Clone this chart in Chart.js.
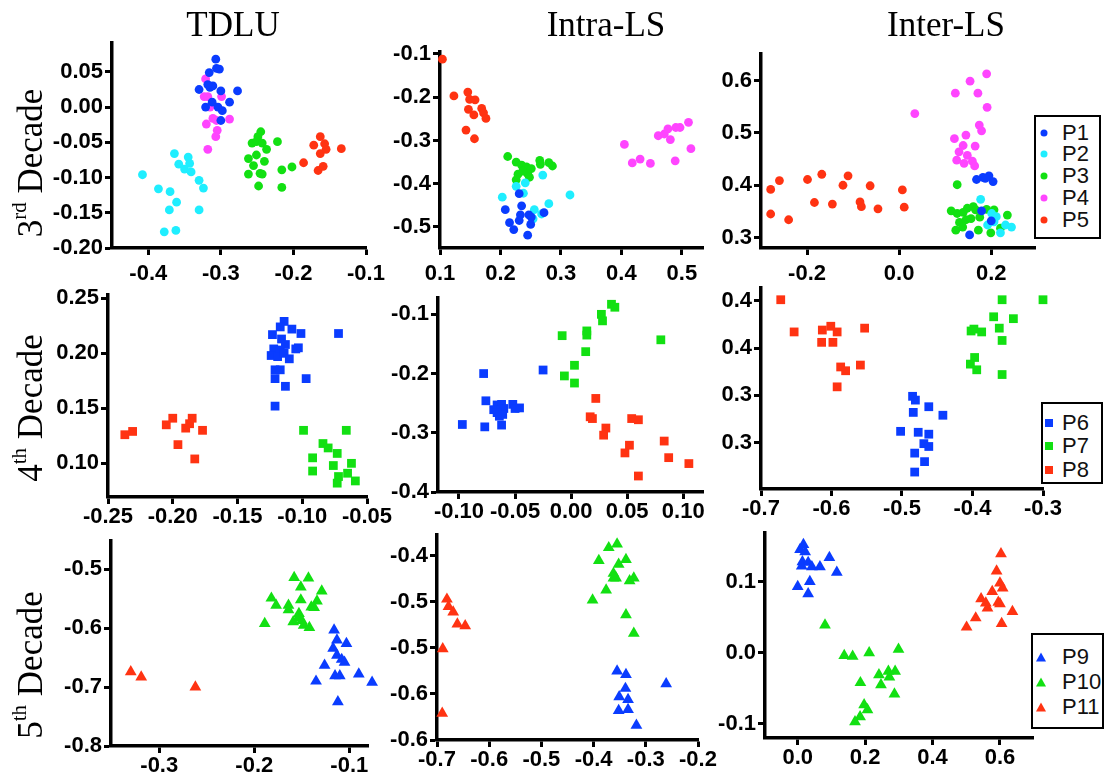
<!DOCTYPE html>
<html>
<head>
<meta charset="utf-8">
<script src="https://cdn.jsdelivr.net/npm/chart.js@4.4.0/dist/chart.umd.min.js"></script>
<style>
  body { margin: 0; background: #fff; }
  #fig { position: relative; width: 1106px; height: 783px; overflow: hidden; background: #fff; }
  #fig canvas { position: absolute; }
  .title { position: absolute; top: 7px; font: 35px "Liberation Serif", "Times New Roman", serif; line-height: 1; white-space: nowrap; transform: translateX(-50%); color: #000; }
  .row { position: absolute; font: 35px "Liberation Serif", "Times New Roman", serif; line-height: 1; white-space: nowrap; transform: translate(-50%, -50%) rotate(-90deg); color: #000; }
  .row sup { font-size: 60%; line-height: 0; vertical-align: 0.75em; }
  .legend { position: absolute; box-sizing: border-box; border: 2px solid #000; background: #fff; }
  .legend .lab { position: absolute; font: 22px "Liberation Sans", Arial, sans-serif; line-height: 1; color: #111; transform: translateY(-50%); }
  .legend .mk { position: absolute; transform: translate(-50%, -50%); }
</style>
</head>
<body>
<div id="fig"></div>
<script>
// colours of the patient series
const BLUE = "#0a3cff", CYAN = "#1feeff", GREEN = "#12e012", MAGENTA = "#ff45ff", RED = "#ff3312";

// ---- 3rd decade ----
const t3_P1 = [[-0.307,0.068],[-0.316,0.049],[-0.306,0.055],[-0.302,0.054],[-0.330,0.025],[-0.315,0.028],[-0.311,0.030],[-0.300,0.023],[-0.277,0.023],[-0.288,0.007],[-0.321,0.000],[-0.312,0.007],[-0.304,0.000],[-0.298,-0.005],[-0.300,-0.019],[-0.318,0.032]];
const t3_P2 = [[-0.408,-0.096],[-0.386,-0.116],[-0.370,-0.120],[-0.364,-0.066],[-0.358,-0.081],[-0.345,-0.071],[-0.343,-0.080],[-0.350,-0.088],[-0.341,-0.092],[-0.330,-0.104],[-0.324,-0.115],[-0.361,-0.135],[-0.371,-0.146],[-0.330,-0.146],[-0.378,-0.177],[-0.362,-0.175]];
const t3_P3 = [[-0.245,-0.035],[-0.249,-0.042],[-0.257,-0.051],[-0.251,-0.049],[-0.243,-0.051],[-0.222,-0.049],[-0.237,-0.060],[-0.251,-0.068],[-0.262,-0.073],[-0.255,-0.083],[-0.240,-0.077],[-0.262,-0.095],[-0.246,-0.094],[-0.243,-0.095],[-0.248,-0.112],[-0.216,-0.089],[-0.202,-0.085],[-0.216,-0.114]];
const t3_P4 = [[-0.321,0.040],[-0.323,0.015],[-0.318,0.015],[-0.299,0.015],[-0.315,0.000],[-0.311,-0.016],[-0.306,-0.019],[-0.288,-0.017],[-0.320,-0.024],[-0.305,-0.033],[-0.307,-0.042],[-0.318,-0.060]];
const t3_P5 = [[-0.163,-0.042],[-0.172,-0.054],[-0.157,-0.052],[-0.163,-0.066],[-0.155,-0.060],[-0.134,-0.059],[-0.186,-0.079],[-0.159,-0.084],[-0.166,-0.090]];

const i3_P1 = [[0.231,-0.423],[0.208,-0.460],[0.235,-0.451],[0.233,-0.472],[0.247,-0.472],[0.251,-0.477],[0.272,-0.467],[0.215,-0.490],[0.231,-0.485],[0.222,-0.506],[0.250,-0.494],[0.245,-0.519]];
const i3_P2 = [[0.270,-0.380],[0.241,-0.398],[0.226,-0.406],[0.203,-0.431],[0.238,-0.422],[0.315,-0.426],[0.280,-0.446],[0.256,-0.460],[0.268,-0.470],[0.254,-0.481]];
const i3_P3 = [[0.212,-0.337],[0.226,-0.350],[0.235,-0.357],[0.243,-0.361],[0.251,-0.365],[0.265,-0.346],[0.266,-0.355],[0.280,-0.351],[0.286,-0.359],[0.229,-0.378],[0.245,-0.377],[0.226,-0.391],[0.248,-0.385],[0.237,-0.371]];
const i3_P4 = [[0.405,-0.309],[0.418,-0.352],[0.431,-0.343],[0.448,-0.353],[0.461,-0.289],[0.471,-0.285],[0.477,-0.273],[0.490,-0.270],[0.497,-0.270],[0.511,-0.258],[0.481,-0.298],[0.489,-0.347],[0.515,-0.319]];
const i3_P5 = [[0.104,-0.112],[0.123,-0.197],[0.146,-0.188],[0.149,-0.205],[0.158,-0.206],[0.147,-0.228],[0.156,-0.241],[0.169,-0.226],[0.172,-0.236],[0.176,-0.249],[0.143,-0.276],[0.157,-0.296]];

const e3_P1 = [[0.168,0.411],[0.182,0.415],[0.195,0.418],[0.204,0.407],[0.179,0.351],[0.200,0.332],[0.153,0.305],[0.187,0.413]];
const e3_P2 = [[0.177,0.373],[0.201,0.346],[0.211,0.340],[0.192,0.324],[0.220,0.309],[0.231,0.324],[0.244,0.320],[0.206,0.330]];
const e3_P3 = [[0.126,0.401],[0.113,0.351],[0.126,0.346],[0.139,0.348],[0.148,0.356],[0.161,0.359],[0.166,0.353],[0.190,0.354],[0.206,0.353],[0.235,0.343],[0.131,0.329],[0.145,0.334],[0.156,0.336],[0.123,0.314],[0.138,0.320],[0.172,0.314],[0.199,0.309],[0.220,0.318],[0.175,0.339]];
const e3_P4 = [[0.034,0.537],[0.122,0.576],[0.154,0.599],[0.190,0.613],[0.171,0.576],[0.191,0.549],[0.174,0.515],[0.179,0.504],[0.120,0.489],[0.145,0.496],[0.139,0.476],[0.165,0.475],[0.130,0.464],[0.148,0.457],[0.125,0.448],[0.141,0.442],[0.159,0.446],[0.164,0.437]];
const e3_P5 = [[-0.279,0.392],[-0.260,0.409],[-0.279,0.345],[-0.240,0.334],[-0.199,0.411],[-0.168,0.421],[-0.184,0.367],[-0.145,0.364],[-0.122,0.400],[-0.111,0.418],[-0.085,0.368],[-0.082,0.359],[-0.063,0.399],[-0.046,0.355],[0.007,0.391],[0.011,0.358]];

// ---- 4th decade ----
const t4_P6 = [[-0.114,0.229],[-0.117,0.224],[-0.108,0.222],[-0.123,0.217],[-0.101,0.218],[-0.072,0.218],[-0.116,0.213],[-0.113,0.208],[-0.122,0.204],[-0.117,0.203],[-0.103,0.205],[-0.105,0.204],[-0.124,0.198],[-0.119,0.197],[-0.114,0.200],[-0.110,0.195],[-0.121,0.185],[-0.117,0.185],[-0.097,0.177],[-0.121,0.177],[-0.113,0.170],[-0.121,0.152]];
const t4_P7 = [[-0.099,0.130],[-0.066,0.130],[-0.084,0.118],[-0.080,0.114],[-0.073,0.109],[-0.092,0.105],[-0.076,0.098],[-0.062,0.100],[-0.092,0.093],[-0.072,0.088],[-0.065,0.091],[-0.073,0.082],[-0.059,0.084]];
const t4_P8 = [[-0.237,0.126],[-0.231,0.129],[-0.205,0.135],[-0.200,0.141],[-0.190,0.132],[-0.187,0.136],[-0.185,0.141],[-0.177,0.130],[-0.196,0.117],[-0.183,0.104]];

const i4_P6 = [[-0.078,-0.200],[-0.025,-0.194],[-0.076,-0.246],[-0.097,-0.286],[-0.077,-0.290],[-0.062,-0.287],[-0.066,-0.253],[-0.062,-0.252],[-0.069,-0.261],[-0.063,-0.262],[-0.060,-0.259],[-0.064,-0.272],[-0.061,-0.269],[-0.052,-0.252],[-0.050,-0.259],[-0.046,-0.258],[-0.066,-0.266]];
const i4_P7 = [[0.036,-0.083],[0.039,-0.088],[0.027,-0.100],[0.028,-0.111],[0.014,-0.128],[0.014,-0.135],[-0.008,-0.136],[0.080,-0.143],[0.013,-0.163],[0.003,-0.186],[-0.006,-0.204],[0.003,-0.216]];
const i4_P8 = [[0.022,-0.242],[0.017,-0.273],[0.019,-0.276],[0.054,-0.276],[0.060,-0.278],[0.031,-0.292],[0.029,-0.304],[0.052,-0.321],[0.048,-0.334],[0.083,-0.314],[0.087,-0.342],[0.105,-0.352],[0.060,-0.373]];

const e4_P6 = [[-0.485,0.349],[-0.481,0.345],[-0.462,0.338],[-0.484,0.332],[-0.442,0.329],[-0.502,0.312],[-0.477,0.311],[-0.462,0.309],[-0.469,0.299],[-0.462,0.296],[-0.482,0.289],[-0.468,0.280],[-0.482,0.269]];
const e4_P7 = [[-0.358,0.451],[-0.300,0.451],[-0.370,0.433],[-0.342,0.431],[-0.362,0.421],[-0.402,0.418],[-0.398,0.420],[-0.387,0.417],[-0.358,0.408],[-0.397,0.390],[-0.403,0.383],[-0.394,0.377],[-0.358,0.372]];
const e4_P8 = [[-0.672,0.451],[-0.653,0.417],[-0.613,0.419],[-0.601,0.423],[-0.592,0.417],[-0.553,0.421],[-0.614,0.406],[-0.598,0.406],[-0.587,0.380],[-0.580,0.376],[-0.559,0.382],[-0.592,0.359]];

// ---- 5th decade ----
const t5_P9 = [[-0.116,-0.603],[-0.113,-0.620],[-0.103,-0.626],[-0.117,-0.634],[-0.113,-0.646],[-0.108,-0.653],[-0.105,-0.658],[-0.126,-0.663],[-0.090,-0.678],[-0.115,-0.681],[-0.110,-0.681],[-0.135,-0.690],[-0.112,-0.725],[-0.076,-0.692]];
const t5_P10 = [[-0.158,-0.514],[-0.143,-0.515],[-0.151,-0.530],[-0.129,-0.537],[-0.182,-0.549],[-0.151,-0.552],[-0.134,-0.554],[-0.177,-0.561],[-0.164,-0.561],[-0.140,-0.564],[-0.137,-0.565],[-0.164,-0.569],[-0.153,-0.575],[-0.154,-0.583],[-0.159,-0.589],[-0.150,-0.587],[-0.189,-0.592],[-0.148,-0.595],[-0.142,-0.599]];
const t5_P11 = [[-0.330,-0.674],[-0.319,-0.683],[-0.262,-0.700]];

const i5_P9 = [[-0.355,-0.525],[-0.338,-0.529],[-0.339,-0.544],[-0.351,-0.553],[-0.334,-0.556],[-0.352,-0.568],[-0.334,-0.567],[-0.318,-0.584],[-0.261,-0.539]];
const i5_P10 = [[-0.371,-0.391],[-0.355,-0.387],[-0.390,-0.405],[-0.338,-0.404],[-0.352,-0.409],[-0.362,-0.419],[-0.357,-0.424],[-0.362,-0.424],[-0.323,-0.424],[-0.331,-0.427],[-0.376,-0.437],[-0.402,-0.448],[-0.338,-0.464],[-0.323,-0.484]];
const i5_P11 = [[-0.681,-0.447],[-0.678,-0.455],[-0.669,-0.461],[-0.661,-0.474],[-0.646,-0.476],[-0.689,-0.501],[-0.690,-0.571]];

const e5_P9 = [[0.017,0.152],[0.007,0.145],[0.022,0.142],[0.014,0.128],[0.031,0.127],[0.012,0.122],[0.042,0.121],[0.066,0.121],[0.094,0.134],[0.116,0.113],[0.036,0.100],[0.000,0.093],[0.031,0.083]];
const e5_P10 = [[0.081,0.039],[0.138,-0.004],[0.163,-0.005],[0.212,0.000],[0.299,0.005],[0.241,-0.031],[0.269,-0.026],[0.272,-0.034],[0.289,-0.026],[0.247,-0.045],[0.186,-0.042],[0.287,-0.058],[0.197,-0.073],[0.207,-0.080],[0.185,-0.090],[0.170,-0.097]];
const e5_P11 = [[0.603,0.139],[0.590,0.115],[0.600,0.098],[0.608,0.091],[0.577,0.086],[0.544,0.076],[0.558,0.070],[0.595,0.071],[0.600,0.069],[0.563,0.063],[0.637,0.058],[0.528,0.049],[0.605,0.041],[0.501,0.036]];

// ---- tick values and labels ----
const t3_xTicks = [-0.4,-0.3,-0.2,-0.1], t3_xLabels = ["-0.4","-0.3","-0.2","-0.1"];
const t3_yTicks = [-0.2,-0.15,-0.1,-0.05,0,0.05], t3_yLabels = ["-0.20","-0.15","-0.10","-0.05","0.00","0.05"];
const i3_xTicks = [0.1,0.2,0.3,0.4,0.5], i3_xLabels = ["0.1","0.2","0.3","0.4","0.5"];
const i3_yTicks = [-0.5,-0.4,-0.3,-0.2,-0.1], i3_yLabels = ["-0.5","-0.4","-0.3","-0.2","-0.1"];
const e3_xTicks = [-0.2,0,0.2], e3_xLabels = ["-0.2","0.0","0.2"];
const e3_yTicks = [0.3,0.4,0.5,0.6], e3_yLabels = ["0.3","0.4","0.5","0.6"];
const t4_xTicks = [-0.25,-0.2,-0.15,-0.1,-0.05], t4_xLabels = ["-0.25","-0.20","-0.15","-0.10","-0.05"];
const t4_yTicks = [0.1,0.15,0.2,0.25], t4_yLabels = ["0.10","0.15","0.20","0.25"];
const i4_xTicks = [-0.1,-0.05,0,0.05,0.1], i4_xLabels = ["-0.10","-0.05","0.00","0.05","0.10"];
const i4_yTicks = [-0.4,-0.3,-0.2,-0.1], i4_yLabels = ["-0.4","-0.3","-0.2","-0.1"];
const e4_xTicks = [-0.7,-0.6,-0.5,-0.4,-0.3], e4_xLabels = ["-0.7","-0.6","-0.5","-0.4","-0.3"];
const e4_yTicks = [0.3,0.35,0.4,0.45], e4_yLabels = ["0.3","0.3","0.4","0.4"];
const t5_xTicks = [-0.3,-0.2,-0.1], t5_xLabels = ["-0.3","-0.2","-0.1"];
const t5_yTicks = [-0.8,-0.7,-0.6,-0.5], t5_yLabels = ["-0.8","-0.7","-0.6","-0.5"];
const i5_xTicks = [-0.7,-0.6,-0.5,-0.4,-0.3,-0.2], i5_xLabels = ["-0.7","-0.6","-0.5","-0.4","-0.3","-0.2"];
const i5_yTicks = [-0.6,-0.55,-0.5,-0.45,-0.4], i5_yLabels = ["-0.6","-0.6","-0.5","-0.5","-0.4"];
const e5_xTicks = [0,0.2,0.4,0.6], e5_xLabels = ["0.0","0.2","0.4","0.6"];
const e5_yTicks = [-0.1,0,0.1], e5_yLabels = ["-0.1","0.0","0.1"];

const columnTitles = ["TDLU", "Intra-LS", "Inter-LS"];
const rowOrdinals = [["3", "rd"], ["4", "th"], ["5", "th"]];
const legend1 = ["P1", "P2", "P3", "P4", "P5"];
const legend2 = ["P6", "P7", "P8"];
const legend3 = ["P9", "P10", "P11"];

// ---- layout ----
const C5 = [BLUE, CYAN, GREEN, MAGENTA, RED];
const C3 = [BLUE, GREEN, RED];
const panels = [
  { area: [112, 43, 366, 248], x: [-0.45, -0.1], y: [-0.2, 0.091], xt: t3_xTicks, xl: t3_xLabels, yt: t3_yTicks, yl: t3_yLabels, shape: "circle", series: [t3_P1, t3_P2, t3_P3, t3_P4, t3_P5], colors: C5, xpad: 6 },
  { area: [440, 52, 703, 248], x: [0.1, 0.535], y: [-0.5486, -0.0954], xt: i3_xTicks, xl: i3_xLabels, yt: i3_yTicks, yl: i3_yLabels, shape: "circle", series: [i3_P1, i3_P2, i3_P3, i3_P4, i3_P5], colors: C5, xpad: 6 },
  { area: [761, 54, 1035, 248], x: [-0.3, 0.295], y: [0.28, 0.651], xt: e3_xTicks, xl: e3_xLabels, yt: e3_yTicks, yl: e3_yLabels, shape: "circle", series: [e3_P1, e3_P2, e3_P3, e3_P4, e3_P5], colors: C5, xpad: 6 },
  { area: [108, 295, 367, 497], x: [-0.25, -0.05], y: [0.0694, 0.253], xt: t4_xTicks, xl: t4_xLabels, yt: t4_yTicks, yl: t4_yLabels, shape: "rect", series: [t4_P6, t4_P7, t4_P8], colors: C3, xpad: 0 },
  { area: [438, 298, 703, 492], x: [-0.1187, 0.1176], y: [-0.4, -0.0724], xt: i4_xTicks, xl: i4_xLabels, yt: i4_yTicks, yl: i4_yLabels, shape: "rect", series: [i4_P6, i4_P7, i4_P8], colors: C3, xpad: 0 },
  { area: [761, 288, 1043, 489], x: [-0.7, -0.3], y: [0.2511, 0.4634], xt: e4_xTicks, xl: e4_xLabels, yt: e4_yTicks, yl: e4_yLabels, shape: "rect", series: [e4_P6, e4_P7, e4_P8], colors: C3, xpad: 0 },
  { area: [111, 541, 368, 746], x: [-0.3508, -0.0803], y: [-0.8, -0.4519], xt: t5_xTicks, xl: t5_xLabels, yt: t5_yTicks, yl: t5_yLabels, shape: "triangle", series: [t5_P9, t5_P10, t5_P11], colors: C3, xpad: 0 },
  { area: [437, 535, 698, 740], x: [-0.7, -0.2], y: [-0.6, -0.3772], xt: i5_xTicks, xl: i5_xLabels, yt: i5_yTicks, yl: i5_yLabels, shape: "triangle", series: [i5_P9, i5_P10, i5_P11], colors: C3, xpad: 0 },
  { area: [765, 533, 1033, 738], x: [-0.097, 0.698], y: [-0.1197, 0.1684], xt: e5_xTicks, xl: e5_xLabels, yt: e5_yTicks, yl: e5_yLabels, shape: "triangle", series: [e5_P9, e5_P10, e5_P11], colors: C3, xpad: 0 },
];
const RADIUS = { circle: 4.4, rect: 6.2, triangle: 6.8 };

const fig = document.getElementById("fig");
const YW = 76, XH = 44, PT = 16, PR = 36;
const tickFont = { family: "'Liberation Sans', Arial, sans-serif", weight: "bold", size: 22 };

function axis(min, max, vals, labels, isX, pad) {
  return {
    type: "linear", min, max,
    afterFit: s => { if (isX) s.height = XH; else s.width = YW; },
    afterBuildTicks: s => { s.ticks = vals.map(v => ({ value: v })); },
    ticks: { autoSkip: false, maxRotation: 0, padding: pad, color: "#000", font: tickFont,
             callback: (v, i) => labels[i] },
    grid: { drawOnChartArea: false, drawTicks: true, tickLength: 7, tickWidth: 3, tickColor: "#000" },
    border: { display: true, width: 3.5, color: "#000" },
  };
}

for (const p of panels) {
  const [l, t, r, b] = p.area;
  const cv = document.createElement("canvas");
  const w = r - l + YW + PR, h = b - t + PT + XH;
  cv.width = w; cv.height = h;
  cv.style.left = (l - YW) + "px"; cv.style.top = (t - PT) + "px";
  cv.style.width = w + "px"; cv.style.height = h + "px";
  fig.appendChild(cv);
  new Chart(cv, {
    type: "scatter",
    data: {
      datasets: p.series.map((s, i) => ({
        data: s.map(([x, y]) => ({ x, y })),
        pointStyle: p.shape, pointRadius: RADIUS[p.shape], pointHoverRadius: RADIUS[p.shape],
        backgroundColor: p.colors[i], borderColor: p.colors[i], borderWidth: 0, clip: false,
      })),
    },
    options: {
      responsive: false, animation: false, devicePixelRatio: 1, events: [],
      layout: { padding: { left: 0, top: PT, right: PR, bottom: 0 } },
      plugins: { legend: { display: false }, tooltip: { enabled: false } },
      scales: {
        x: axis(p.x[0], p.x[1], p.xt, p.xl, true, p.xpad),
        y: axis(p.y[0], p.y[1], p.yt, p.yl, false, 2),
      },
    },
  });
}

// column titles
[233, 606, 946].forEach((cx, i) => {
  const d = document.createElement("div");
  d.className = "title"; d.style.left = cx + "px"; d.textContent = columnTitles[i];
  fig.appendChild(d);
});
// row labels
[163, 408, 665].forEach((cy, i) => {
  const d = document.createElement("div");
  d.className = "row"; d.style.left = "30px"; d.style.top = cy + "px";
  d.innerHTML = `${rowOrdinals[i][0]}<sup>${rowOrdinals[i][1]}</sup> Decade`;
  fig.appendChild(d);
});

// legends
function marker(shape, color) {
  const m = document.createElement("span");
  m.className = "mk";
  if (shape === "circle") Object.assign(m.style, { width: "7px", height: "7px", borderRadius: "50%", background: color });
  else if (shape === "rect") Object.assign(m.style, { width: "8px", height: "8px", background: color });
  else Object.assign(m.style, { width: "0", height: "0", borderLeft: "5px solid transparent", borderRight: "5px solid transparent", borderBottom: "9px solid " + color });
  return m;
}
function legend(box, names, colors, shape, rows, mx, tx) {
  const d = document.createElement("div");
  d.className = "legend";
  Object.assign(d.style, { left: box[0] + "px", top: box[1] + "px", width: box[2] + "px", height: box[3] + "px" });
  names.forEach((n, i) => {
    const m = marker(shape, colors[i]);
    m.style.left = (mx - box[0] - 2) + "px"; m.style.top = (rows[i] - box[1] - 2) + "px";
    d.appendChild(m);
    const s = document.createElement("span");
    s.className = "lab"; s.textContent = n;
    s.style.left = (tx - box[0] - 2) + "px"; s.style.top = (rows[i] - box[1] - 2) + "px";
    d.appendChild(s);
  });
  fig.appendChild(d);
}
legend([1034, 115, 67, 124], legend1, C5, "circle", [133, 154, 176, 198, 220], 1044, 1062);
legend([1041, 402, 62, 82], legend2, C3, "rect", [423, 446, 470], 1049, 1062);
legend([1031, 633, 73, 96], legend3, C3, "triangle", [657, 682, 707], 1041, 1062);
</script>
</body>
</html>
